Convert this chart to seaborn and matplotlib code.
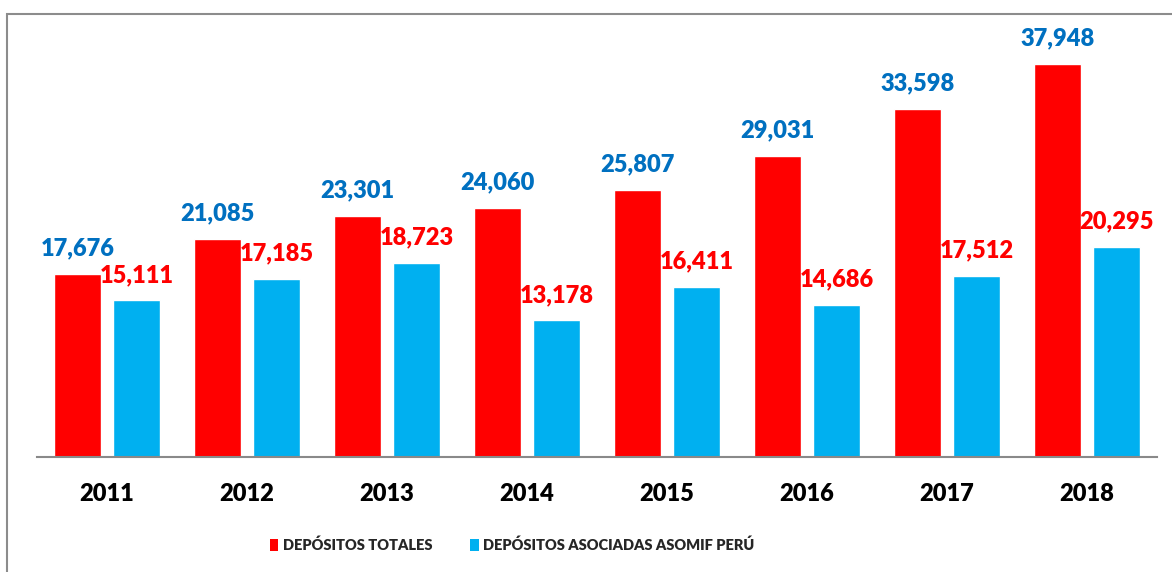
import numpy as np
import pandas as pd
import matplotlib
matplotlib.use("Agg")
import matplotlib.pyplot as plt
from matplotlib.patches import Rectangle, Patch
import seaborn as sns

years = ["2011", "2012", "2013", "2014", "2015", "2016", "2017", "2018"]
depositos_totales = [17676, 21085, 23301, 24060, 25807, 29031, 33598, 37948]
depositos_asomif = [15111, 17185, 18723, 13178, 16411, 14686, 17512, 20295]
series_names = ["DEPÓSITOS TOTALES", "DEPÓSITOS ASOCIADAS ASOMIF PERÚ"]

RED = "#FF0000"
BLUE = "#00B0F0"
LABEL_COLORS = ["#0070C0", "#FF0000"]

df = pd.DataFrame({
    "year": years * 2,
    "value": depositos_totales + depositos_asomif,
    "serie": [series_names[0]] * len(years) + [series_names[1]] * len(years),
})

sns.set_theme(style="white")
plt.rcParams["font.family"] = ["Lato", "DejaVu Sans"]

fig = plt.figure(figsize=(11.72, 5.72), dpi=100)
ax = fig.add_axes([37 / 1172, 115 / 572, 1120 / 1172, 443 / 572])

sns.barplot(data=df, x="year", y="value", hue="serie", order=years,
            hue_order=series_names, palette=[RED, BLUE], width=0.84,
            gap=0.214, saturation=1, legend=False, ax=ax)

# value labels: blue text over red bars, red text over blue bars
for cont, col in zip(ax.containers, LABEL_COLORS):
    ax.bar_label(cont, labels=[f"{v:,.0f}" for v in cont.datavalues],
                 padding=10.5, color=col, fontsize=17, fontweight="heavy")

ax.set_ylim(0, 42760)
ax.set_xlim(-0.5, len(years) - 0.5)
ax.set_xlabel("")
ax.set_ylabel("")
ax.set_yticks([])
ax.tick_params(axis="x", length=0, pad=19, labelsize=17)
for lbl in ax.get_xticklabels():
    lbl.set_fontweight("heavy")
    lbl.set_color("black")
for s in ["top", "left", "right"]:
    ax.spines[s].set_visible(False)
ax.spines["bottom"].set_color("#898989")
ax.spines["bottom"].set_linewidth(1.5)
ax.patch.set_alpha(0)

# outer chart frame (partially cropped)
fig.patches.append(Rectangle((7 / 1172, -0.2), 1.2, 1.2 - 14 / 572,
                             transform=fig.transFigure, fill=False,
                             edgecolor="#8C8C8C", linewidth=1.5, zorder=0))

handles = [Patch(facecolor=RED, edgecolor="none"), Patch(facecolor=BLUE, edgecolor="none")]
fig.legend(handles, series_names, loc="center", bbox_to_anchor=(512 / 1172, 1 - 545 / 572),
           ncol=2, frameon=False, handlelength=0.6, handleheight=0.9, handletextpad=0.3,
           columnspacing=2.6,
           prop={"family": "Lato", "weight": "heavy", "size": 10.5})

fig.savefig("out.png", dpi=100)
